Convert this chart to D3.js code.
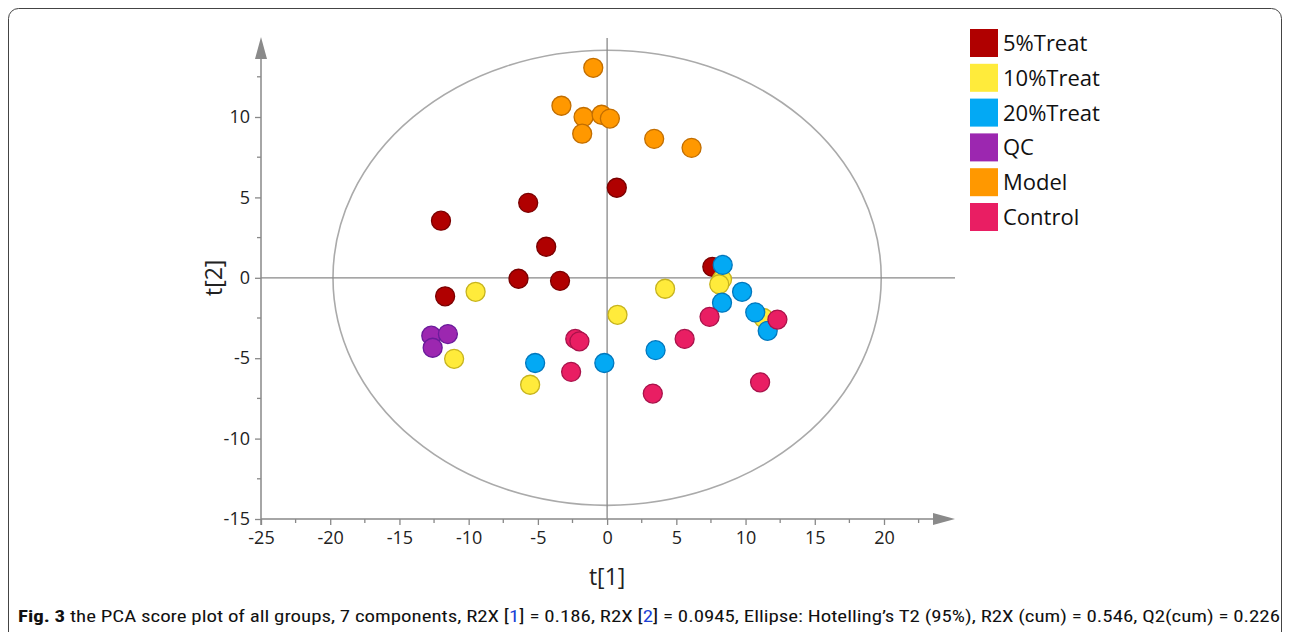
<!DOCTYPE html>
<html><head><meta charset="utf-8">
<script src="https://cdn.jsdelivr.net/npm/d3@7"></script>
<style>body{margin:0;background:#fff}svg{display:block}</style>
</head><body>
<svg id="c" width="1290" height="632"></svg>
<script>
const groups = ["5%Treat","10%Treat","20%Treat","QC","Model","Control"];
const colors = ["#b00000","#ffeb3b","#03a9f4","#9c27b0","#ff9800","#e91e63"];
const strokes = ["#7a0000","#c7b41e","#0277bd","#6a1b9a","#c26e00","#a8124a"];
const treat5 = [[-12.0,3.55],[-5.7,4.66],[0.7,5.6],[-4.4,1.93],[-6.4,-0.06],[-3.4,-0.19],[-11.7,-1.15],[7.6,0.68]];
const treat10 = [[-9.5,-0.87],[-11.05,-5.04],[-5.56,-6.65],[0.75,-2.3],[4.19,-0.68],[8.3,-0.1],[8.1,-0.4],[11.3,-2.5]];
const treat20 = [[8.35,0.8],[8.3,-1.55],[9.75,-0.87],[10.7,-2.15],[11.6,-3.3],[-5.2,-5.3],[-0.2,-5.3],[3.5,-4.5]];
const qc = [[-12.7,-3.6],[-11.5,-3.5],[-12.6,-4.35]];
const model = [[-1.0,13.06],[-3.3,10.7],[-1.7,10.0],[-0.4,10.14],[0.2,9.9],[-1.8,8.96],[3.4,8.64],[6.1,8.08]];
const control = [[12.3,-2.6],[7.4,-2.43],[5.6,-3.8],[-2.3,-3.8],[-2.0,-3.95],[-2.6,-5.85],[3.3,-7.2],[11.05,-6.5]];
const series = [treat5, treat10, treat20, qc, model, control];
const xTicks = [-25,-20,-15,-10,-5,0,5,10,15,20];
const yTicks = [-15,-10,-5,0,5,10];
const ellipse = {a:19.8, b:14.15};

const svg = d3.select("#c");
const font = "'Open Sans', 'Noto Sans', sans-serif";
// frame
svg.append("rect").attr("x",8.5).attr("y",8.5).attr("width",1273).attr("height",640).attr("rx",10)
  .attr("fill","none").attr("stroke","#444").attr("stroke-width",1);

const x = d3.scaleLinear().domain([-25,20]).range([261,884]);
const y = d3.scaleLinear().domain([-15,10]).range([519,117]);
const axisCol = "#888";
const fmt = d => String(d);

// ellipse
svg.append("ellipse").attr("cx",x(0)).attr("cy",y(0))
  .attr("rx",x(ellipse.a)-x(0)).attr("ry",y(0)-y(ellipse.b))
  .attr("fill","none").attr("stroke","#aaa").attr("stroke-width",1.6);

// cross lines
svg.append("line").attr("x1",x(-25)).attr("x2",955).attr("y1",y(0)).attr("y2",y(0)).attr("stroke",axisCol).attr("stroke-width",1.3);
svg.append("line").attr("x1",x(0)).attr("x2",x(0)).attr("y1",38).attr("y2",y(-15)).attr("stroke",axisCol).attr("stroke-width",1.3);

// x axis
const xMinor = d3.range(-22.5, 25, 5);
const gx = svg.append("g").attr("transform",`translate(0,${y(-15)})`)
  .call(d3.axisBottom(x).tickValues(xTicks).tickSize(6).tickPadding(6).tickFormat(fmt));
gx.select(".domain").remove();
gx.selectAll(".tick line").attr("stroke",axisCol).attr("stroke-width",1.3);
gx.selectAll("text").attr("fill","#222").style("font-family",font).style("font-size","18px");
gx.append("g").selectAll("line").data(xMinor).join("line")
  .attr("x1",d=>x(d)).attr("x2",d=>x(d)).attr("y1",0).attr("y2",4).attr("stroke",axisCol).attr("stroke-width",1.3);
gx.append("line").attr("x1",x(-25)).attr("x2",934).attr("stroke",axisCol).attr("stroke-width",1.5);
gx.append("path").attr("d","M933,-6L955,0L933,6Z").attr("fill","#8a8a8a");

// y axis
const yMinor = d3.range(-12.5, 15, 5);
const gy = svg.append("g").attr("transform",`translate(${x(-25)},0)`)
  .call(d3.axisLeft(y).tickValues(yTicks).tickSize(6).tickPadding(5).tickFormat(fmt));
gy.select(".domain").remove();
gy.selectAll(".tick line").attr("stroke",axisCol).attr("stroke-width",1.3);
gy.selectAll("text").attr("fill","#222").style("font-family",font).style("font-size","18px");
gy.append("g").selectAll("line").data(yMinor).join("line")
  .attr("y1",d=>y(d)).attr("y2",d=>y(d)).attr("x1",0).attr("x2",-4).attr("stroke",axisCol).attr("stroke-width",1.3);
gy.append("line").attr("y1",y(-15)+6).attr("y2",58).attr("stroke",axisCol).attr("stroke-width",1.5);
gy.append("path").attr("d","M-6,59L0,37L6,59Z").attr("fill","#8a8a8a");

// axis titles
svg.append("text").attr("x",x(0)).attr("y",585).attr("text-anchor","middle")
  .style("font-family",font).style("font-size","23px").attr("fill","#222").text("t[1]");
svg.append("text").attr("transform",`translate(222,${y(0)}) rotate(-90)`).attr("text-anchor","middle")
  .style("font-family",font).style("font-size","23px").attr("fill","#222").text("t[2]");

// points
series.forEach((s,i)=>{
  svg.append("g").selectAll("circle").data(s).join("circle")
    .attr("cx",d=>x(d[0])).attr("cy",d=>y(d[1])).attr("r",9.5)
    .attr("fill",colors[i]).attr("stroke",strokes[i]).attr("stroke-width",1.3);
});

// legend
const lg = svg.append("g");
groups.forEach((g,i)=>{
  const yy = 29 + i*34.8;
  lg.append("rect").attr("x",970).attr("y",yy).attr("width",28).attr("height",28).attr("fill",colors[i]);
  lg.append("text").attr("x",1003).attr("y",yy+22).style("font-family",font).style("font-size","22px").attr("fill","#111").text(g);
});

// caption
const cap = svg.append("text").attr("x",18).attr("y",622).style("font-family","'Liberation Sans Narrow','Roboto Condensed','Noto Sans',sans-serif").style("font-size","16px").attr("fill","#111")
  .attr("textLength",1262).attr("lengthAdjust","spacingAndGlyphs");
cap.append("tspan").style("font-weight","bold").text("Fig. 3");
cap.append("tspan").text(" the PCA score plot of all groups, 7 components, R2X [");
cap.append("tspan").attr("fill","#1a3fd6").text("1");
cap.append("tspan").text("] = 0.186, R2X [");
cap.append("tspan").attr("fill","#1a3fd6").text("2");
cap.append("tspan").text("] = 0.0945, Ellipse: Hotelling’s T2 (95%), R2X (cum) = 0.546, Q2(cum) = 0.226");
</script>
</body></html>
